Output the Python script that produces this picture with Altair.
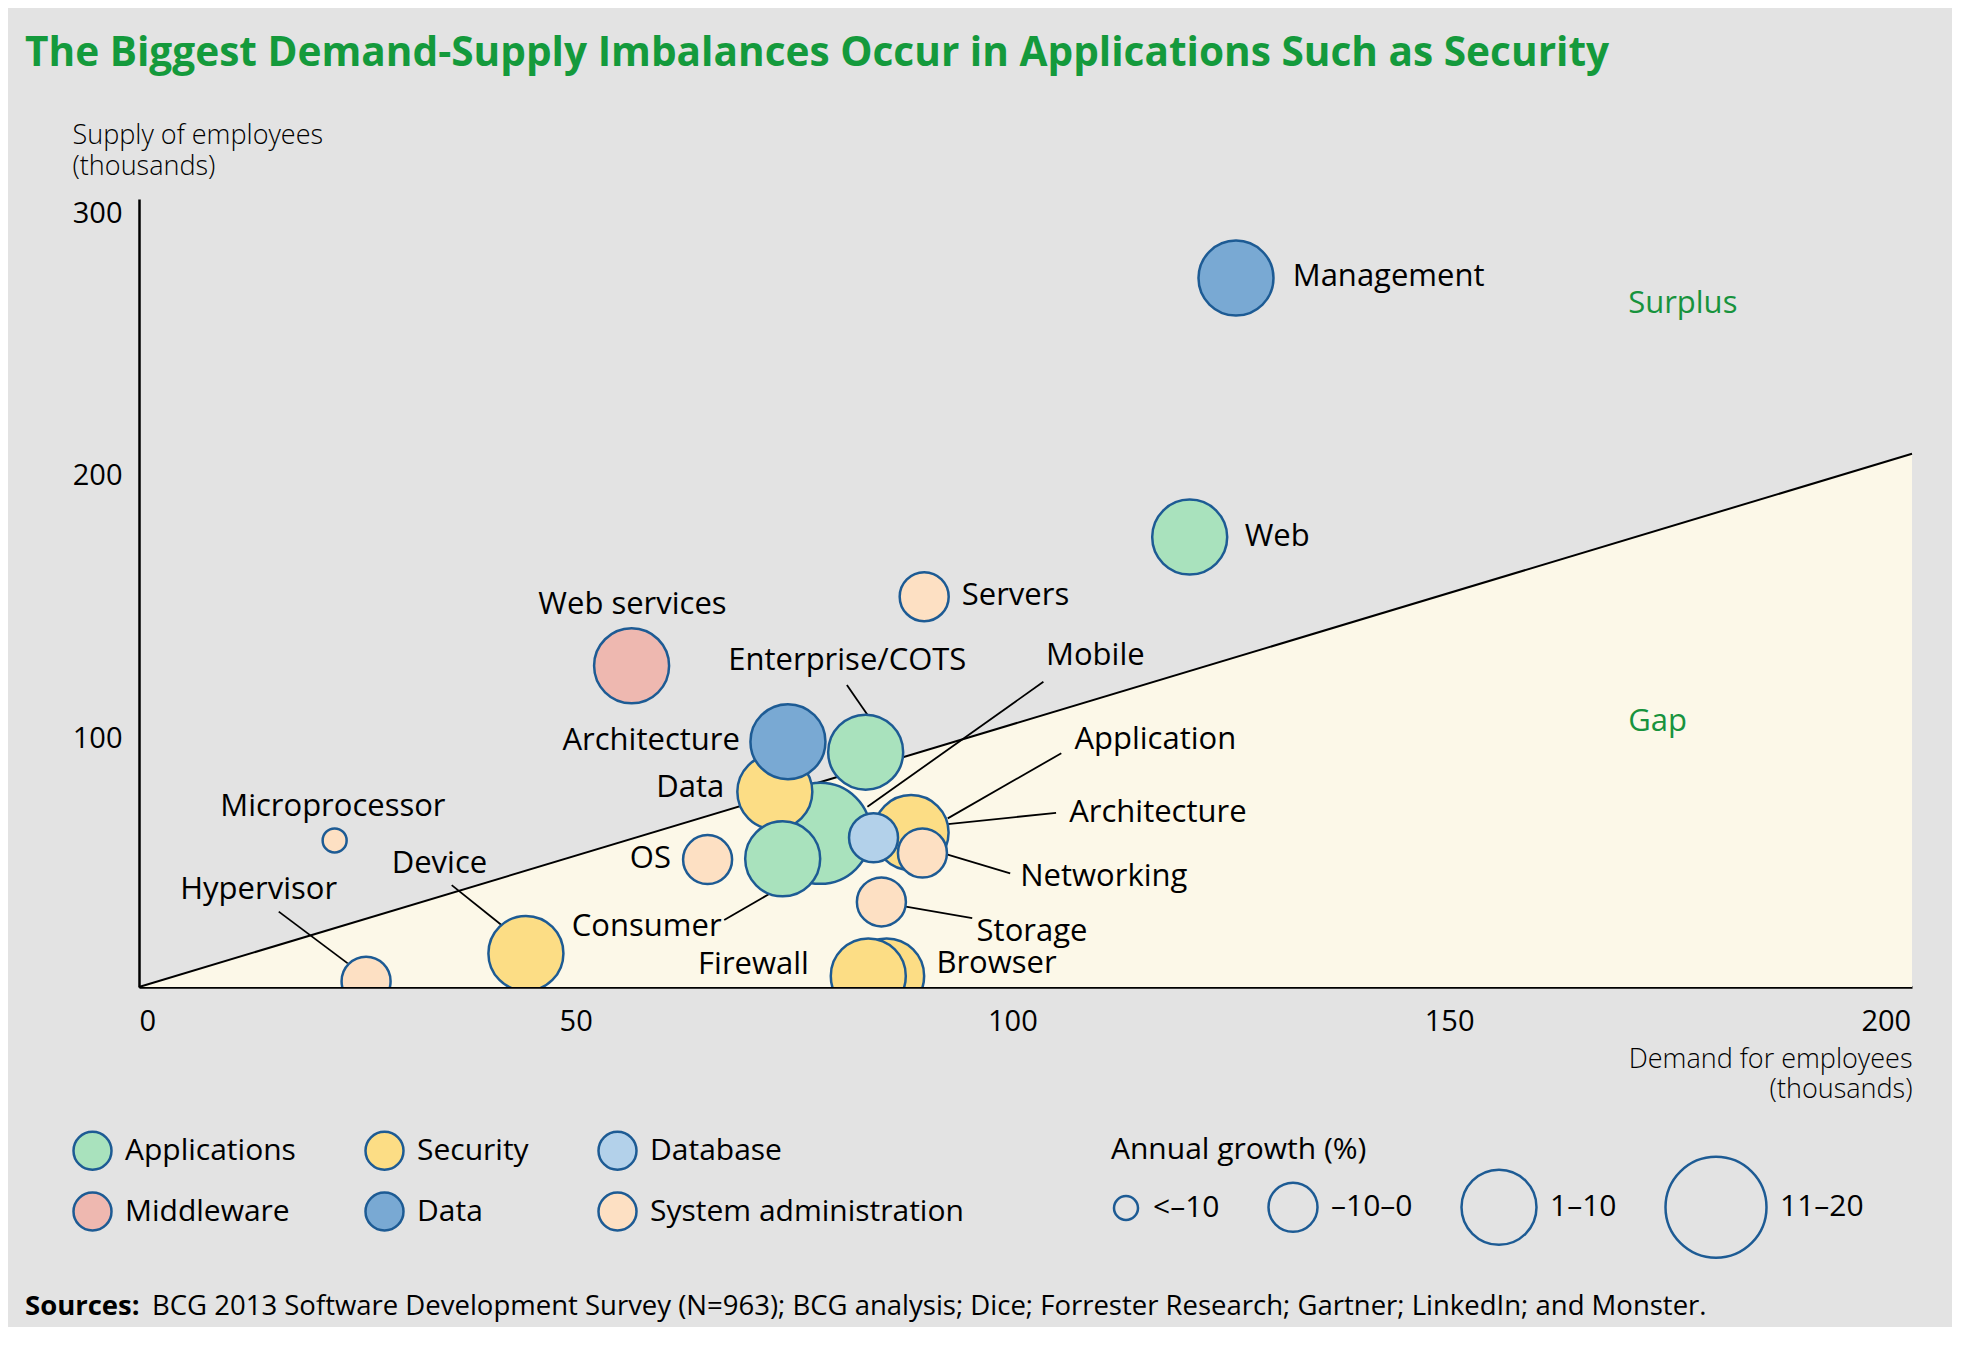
import altair as alt
import pandas as pd

# ---------------- data ----------------
# legend is laid out column by column: (Applications, Middleware), (Security, Data), (Database, System administration)
categories = ["Applications", "Middleware", "Security", "Data", "Database", "System administration"]
category_colors = ["#a9e2bd", "#eeb8b0", "#fcdd85", "#79a9d3", "#b3d1ea", "#fde0c3"]
growth_classes = ["<–10", "–10–0", "1–10", "11–20"]

# bubbles (drawing order back to front)
bubble_name = ["Mobile", "Application", "Browser", "Data", "Consumer", "Enterprise/COTS",
               "Architecture (data)", "Architecture (database)", "Networking", "Firewall",
               "Storage", "OS", "Management", "Web", "Servers", "Web services", "Device",
               "Hypervisor", "Microprocessor"]
bubble_category = ["Applications", "Security", "Security", "Security", "Applications", "Applications",
                   "Data", "Database", "System administration", "Security",
                   "System administration", "System administration", "Data", "Applications",
                   "System administration", "Middleware", "Security",
                   "System administration", "System administration"]
bubble_demand = [78.0, 88.4, 85.6, 72.8, 73.7, 83.2, 74.3, 84.1, 89.7, 83.5,
                 85.0, 65.1, 125.6, 120.3, 89.9, 56.4, 44.3, 26.0, 22.4]
bubble_supply = [58.5, 58.8, 4.2, 74.3, 48.8, 89.4, 93.4, 56.8, 51.0, 4.2,
                 32.4, 48.5, 269.9, 171.3, 148.6, 122.3, 12.8, 2.2, 55.8]
bubble_growth = ["11–20", "1–10", "1–10", "1–10", "1–10", "1–10", "1–10", "–10–0", "–10–0", "1–10",
                 "–10–0", "–10–0", "1–10", "1–10", "–10–0", "1–10", "1–10", "–10–0", "<–10"]

# bubble labels
label_text = ["Management", "Web", "Servers", "Web services", "Enterprise/COTS", "Mobile",
              "Architecture", "Data", "Application", "Architecture", "Networking", "Storage",
              "Browser", "Firewall", "Consumer", "OS", "Device", "Hypervisor", "Microprocessor"]
label_demand = [132.1, 126.6, 94.2, 56.5, 81.1, 109.5, 68.8, 67.0, 107.1, 106.5, 100.9, 95.9,
                91.3, 76.7, 66.7, 60.9, 34.4, 13.7, 22.2]
label_supply = [270.3, 171.5, 148.8, 145.4, 124.1, 126.1, 93.8, 75.6, 94.0, 66.4, 42.0, 20.8,
                8.8, 8.4, 22.7, 48.7, 46.8, 36.9, 68.4]
label_align = ["left", "left", "left", "center", "center", "center", "right", "right", "left", "left",
               "left", "left", "left", "right", "right", "right", "center", "center", "center"]

# leader lines
leader_demand = [81.05, 103.55, 105.6, 105.0, 99.75, 95.4, 67.0, 35.8, 16.0]
leader_supply = [115.0, 116.2, 89.0, 66.3, 43.3, 26.2, 25.5, 38.8, 28.7]
leader_demand2 = [83.5, 83.4, 92.6, 86.8, 92.4, 87.8, 72.3, 41.5, 23.9]
leader_supply2 = [103.2, 68.6, 64.2, 60.0, 50.6, 30.6, 35.7, 23.6, 9.0]

# supply = demand boundary
boundary_demand = [0, 203]
boundary_supply = [0, 203]

region_text = ["Surplus", "Gap"]
region_demand = [170.5, 170.5]
region_supply = [260.0, 100.9]

title_text = "The Biggest Demand-Supply Imbalances Occur in Applications Such as Security"
source_bold = "Sources:"
source_rest = ("BCG 2013 Software Development Survey (N=963); BCG analysis; Dice; "
               "Forrester Research; Gartner; LinkedIn; and Monster.")

# ---------------- frames ----------------
bubbles = pd.DataFrame({"name": bubble_name, "category": bubble_category,
                        "demand": bubble_demand, "supply": bubble_supply,
                        "growth": bubble_growth, "order": list(range(len(bubble_name)))})
labels = pd.DataFrame({"text": label_text, "demand": label_demand,
                       "supply": label_supply, "align": label_align})
leaders = pd.DataFrame({"demand": leader_demand, "supply": leader_supply,
                        "demand2": leader_demand2, "supply2": leader_supply2})
boundary = pd.DataFrame({"demand": boundary_demand, "supply": boundary_supply})
regions = pd.DataFrame({"text": region_text, "demand": region_demand, "supply": region_supply})

# ---------------- styling ----------------
FONT = "Open Sans"
OUTLINE = "#1d5b94"
W, H = 1773, 788

x_scale = alt.Scale(domain=[0, 203], nice=False, zero=False)
y_scale = alt.Scale(domain=[0, 300], nice=False, zero=False)

x_axis = alt.Axis(values=[0, 50, 100, 150, 200], grid=False, ticks=False,
                  domainColor="black", domainWidth=2.5,
                  labelFontSize=29, labelColor="black", labelFont=FONT, labelPadding=20,
                  title=["Demand for employees", "(thousands)"],
                  titleX=W, titleY=59, titleAlign="right", titleBaseline="top",
                  titleFontSize=27, titleFontWeight=300, titleColor="black",
                  titleFont=FONT, titleLineHeight=30)
y_axis = alt.Axis(values=[100, 200, 300], grid=False, ticks=False,
                  domainColor="black", domainWidth=2.5,
                  labelFontSize=29, labelColor="black", labelFont=FONT, labelPadding=17,
                  labelBaseline="top", labelFlush=False,
                  title=["Supply of employees", "(thousands)"],
                  titleX=-67, titleY=-77, titleAngle=0, titleAlign="left",
                  titleBaseline="top", titleFontSize=27, titleFontWeight=300,
                  titleColor="black", titleFont=FONT, titleLineHeight=31)


def X(field="demand"):
    return alt.X(f"{field}:Q", scale=x_scale, axis=x_axis)


def Y(field="supply"):
    return alt.Y(f"{field}:Q", scale=y_scale, axis=y_axis)


gap_area = alt.Chart(boundary).mark_area(color="#fcf8e8").encode(x=X(), y=Y())
gap_line = alt.Chart(boundary).mark_line(color="black", strokeWidth=2).encode(x=X(), y=Y())

leader_rules = alt.Chart(leaders).mark_rule(color="black", strokeWidth=1.8).encode(
    x=X(), y=Y(), x2="demand2:Q", y2="supply2:Q")

points = alt.Chart(bubbles).mark_point(
    filled=True, shape="circle", stroke=OUTLINE, strokeWidth=2.5, opacity=1, clip=True
).encode(
    x=X(), y=Y(),
    fill=alt.Fill("category:N",
                  scale=alt.Scale(domain=categories, range=category_colors),
                  legend=alt.Legend(orient="none", legendX=-67, legendY=931, columns=3,
                                    title=None, symbolType="circle", symbolSize=1444,
                                    symbolStrokeColor=OUTLINE, symbolStrokeWidth=2.5,
                                    symbolOpacity=1, labelFontSize=30, labelFont=FONT,
                                    labelColor="black", labelOffset=12, labelLimit=500,
                                    columnPadding=64, rowPadding=12, padding=0)),
    size=alt.Size("growth:O",
                  scale=alt.Scale(type="ordinal", domain=growth_classes,
                                  range=[576, 2401, 5625, 10201]),
                  legend=alt.Legend(orient="none", legendX=972, legendY=936,
                                    direction="horizontal", title="Annual growth (%)",
                                    titleFontSize=30, titleFontWeight="normal",
                                    titleFont=FONT, titleColor="black", titlePadding=-10,
                                    titleLimit=500,
                                    symbolType="circle", symbolFillColor="transparent",
                                    symbolStrokeColor=OUTLINE, symbolStrokeWidth=2.5,
                                    symbolOpacity=1, labelFontSize=30, labelFont=FONT,
                                    labelColor="black", labelOffset=12, labelLimit=500,
                                    columnPadding=43, padding=0)),
    order=alt.Order("order:Q"),
)


def label_layer(align):
    return alt.Chart(labels).transform_filter(alt.datum.align == align).mark_text(
        align=align, baseline="middle", font=FONT, fontSize=31, color="black"
    ).encode(x=X(), y=Y(), text="text:N")


region_labels = alt.Chart(regions).mark_text(
    align="left", baseline="middle", font=FONT, fontSize=31, color="#17933d"
).encode(x=X(), y=Y(), text="text:N")

src1 = alt.Chart(pd.DataFrame({"t": [source_bold]})).mark_text(
    align="left", baseline="middle", font=FONT, fontSize=27.5, fontWeight="bold", color="black"
).encode(x=alt.value(-114), y=alt.value(1108), text="t:N")
src2 = alt.Chart(pd.DataFrame({"t": [source_rest]})).mark_text(
    align="left", baseline="middle", font=FONT, fontSize=27.5, color="black"
).encode(x=alt.value(13), y=alt.value(1108), text="t:N")

chart = alt.layer(
    gap_area, gap_line, leader_rules, points,
    label_layer("left"), label_layer("center"), label_layer("right"),
    region_labels, src1, src2,
).properties(
    width=W, height=H,
    autosize=alt.AutoSizeParams(type="none"),
    padding={"left": 131, "top": 191, "right": 40, "bottom": 340},
    title=alt.TitleParams(title_text, anchor="start", dx=0, offset=46,
                          fontSize=40.6, font=FONT, fontWeight="bold", color="#149a3c"),
).configure(
    background="#e3e3e3", font=FONT
).configure_view(stroke=None)

chart.save("out.html", embed_options={"renderer": "svg", "actions": False})
